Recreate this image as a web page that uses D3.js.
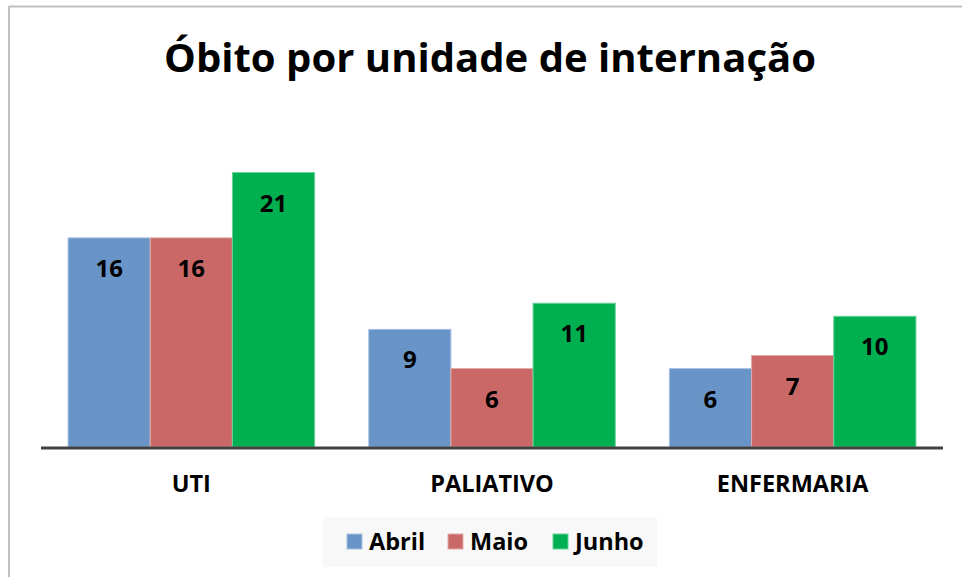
<!DOCTYPE html>
<html>
<head>
<meta charset="utf-8">
<script src="https://cdn.jsdelivr.net/npm/d3@7"></script>
<style>
  body { margin: 0; background: #fff; }
  svg { display: block; font-family: "Open Sans", "Noto Sans", sans-serif; }
</style>
</head>
<body>
<div id="chart"></div>
<script>
let width = 962, height = 577;

// data
const categories = ["UTI", "PALIATIVO", "ENFERMARIA"];
const series = ["Abril", "Maio", "Junho"];
const abril = [16, 9, 6];
const maio = [16, 6, 7];
const junho = [21, 11, 10];
const values = [abril, maio, junho];

const colors = ["#6894c7", "#c96866", "#00b050"];
const strokes = ["#a9c2e2", "#e0a9a8", "#66d29a"];

let margin = {left: 41, right: 19, top: 120, bottom: 130};
let baseY = 447;

let x0 = d3.scaleBand().domain(categories).range([margin.left, width - margin.right]).paddingInner(0.18).paddingOuter(0.09);
let x1 = d3.scaleBand().domain(series).range([0, x0.bandwidth()]);
let y = d3.scaleLinear().domain([0, 25]).range([baseY, baseY - 25 * 13.07]);

let svg = d3.select("#chart").append("svg")
  .attr("width", width).attr("height", height);

// outer frame (cropped)
svg.append("line").attr("x1", 9).attr("x2", width).attr("y1", 6.5).attr("y2", 6.5)
  .attr("stroke", "#c0c0c0").attr("stroke-width", 2);
svg.append("line").attr("x1", 9).attr("x2", 9).attr("y1", 6).attr("y2", height)
  .attr("stroke", "#c0c0c0").attr("stroke-width", 2);

svg.append("text")
  .attr("x", 490).attr("y", 72)
  .attr("text-anchor", "middle")
  .attr("font-size", 40).attr("font-weight", "bold")
  .attr("textLength", 652).attr("lengthAdjust", "spacingAndGlyphs")
  .text("Óbito por unidade de internação");

let groups = svg.selectAll(".grp")
  .data(categories)
  .join("g")
  .attr("class", "grp")
  .attr("transform", d => `translate(${x0(d)},0)`);

groups.selectAll("rect")
  .data((d, ci) => series.map((s, si) => ({s, si, v: values[si][ci]})))
  .join("rect")
  .attr("x", d => x1(d.s))
  .attr("y", d => y(d.v))
  .attr("width", x1.bandwidth())
  .attr("height", d => y(0) - y(d.v))
  .attr("fill", d => colors[d.si])
  .attr("stroke", d => strokes[d.si])
  .attr("stroke-width", 1);

groups.selectAll(".lbl")
  .data((d, ci) => series.map((s, si) => ({s, si, v: values[si][ci]})))
  .join("text")
  .attr("class", "lbl")
  .attr("x", d => x1(d.s) + x1.bandwidth() / 2)
  .attr("y", d => y(d.v) + 39)
  .attr("text-anchor", "middle")
  .attr("font-size", 24).attr("font-weight", "bold")
  .attr("fill", "#000")
  .text(d => d.v);

// baseline axis
svg.append("line")
  .attr("x1", margin.left).attr("x2", width - margin.right)
  .attr("y1", baseY + 1).attr("y2", baseY + 1)
  .attr("stroke", "#404040").attr("stroke-width", 3);

svg.selectAll(".cat")
  .data(categories)
  .join("text")
  .attr("class", "cat")
  .attr("x", d => x0(d) + x0.bandwidth() / 2)
  .attr("y", 492)
  .attr("text-anchor", "middle")
  .attr("font-size", 23.5).attr("font-weight", "bold")
  .text(d => d);

// legend
let lg = svg.append("g");
lg.append("rect").attr("x", 323).attr("y", 517).attr("width", 334).attr("height", 50).attr("fill", "#f8f8f8");
const legX = [347, 448, 553];
series.forEach((s, i) => {
  lg.append("rect").attr("x", legX[i]).attr("y", 534).attr("width", 15).attr("height", 15)
    .attr("fill", colors[i]).attr("stroke", strokes[i]);
  lg.append("text").attr("x", legX[i] + 22).attr("y", 550)
    .attr("font-size", 23.5).attr("font-weight", "bold").text(s);
});
</script>
</body>
</html>
